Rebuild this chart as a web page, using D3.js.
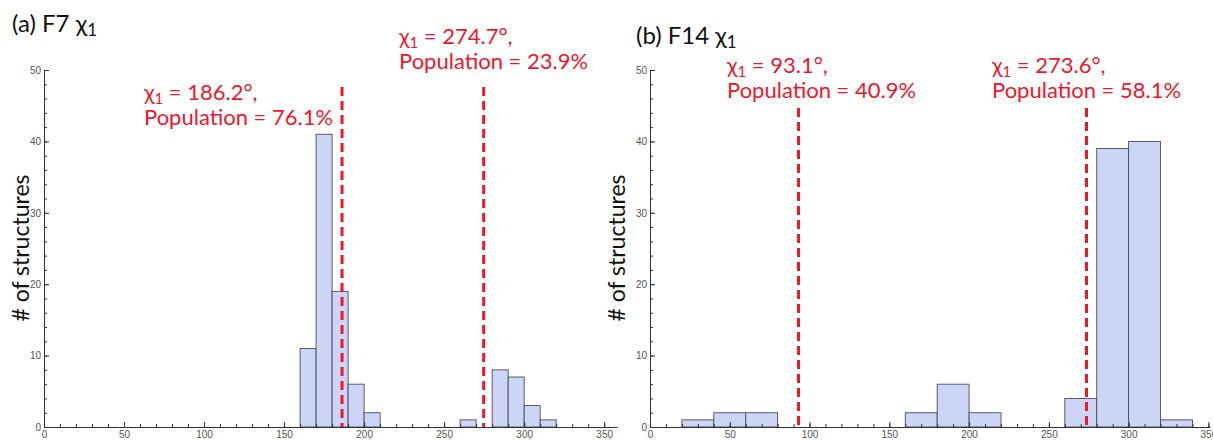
<!DOCTYPE html>
<html>
<head>
<meta charset="utf-8">
<script src="https://cdn.jsdelivr.net/npm/d3@7"></script>
<style>
  body { margin: 0; background: #fff; }
  .tick text { font-family: "Liberation Sans Narrow", "Liberation Sans", sans-serif; font-size: 10px; fill: #555; }
  .lbl { font-family: Lato, "Open Sans", sans-serif; }
</style>
</head>
<body>
<svg id="chart" width="1213" height="442"></svg>
<script>
// F7 histogram (bin start, counts)
const f7Bins = [160, 170, 180, 190, 200, 260, 280, 290, 300, 310];
const f7Counts = [11, 41, 19, 6, 2, 1, 8, 7, 3, 1];
const f7BinWidth = 10;
const f7Peaks = ["186.2", "274.7"];
const f7Pops = ["76.1", "23.9"];

// F14 histogram
const f14Bins = [20, 40, 60, 160, 180, 200, 260, 280, 300, 320];
const f14Counts = [1, 2, 2, 2, 6, 2, 4, 39, 40, 1];
const f14BinWidth = 20;
const f14Peaks = ["93.1", "273.6"];
const f14Pops = ["40.9", "58.1"];

const xTicks = [0, 50, 100, 150, 200, 250, 300, 350];
const yTicks = [0, 10, 20, 30, 40, 50];

const svg = d3.select("#chart");

function drawPanel(p) {
    const x = d3.scaleLinear().domain(p.xDomain).range(p.xRange);
    const y = d3.scaleLinear().domain([0, 50]).range([427, 70]);
    const g = svg.append("g");

    // bars
    g.selectAll(".bar")
        .data(p.bins.map((b, i) => ({ b: b, c: p.counts[i] })))
        .join("rect")
        .attr("class", "bar")
        .attr("x", d => x(d.b))
        .attr("width", d => x(d.b + p.binWidth) - x(d.b))
        .attr("y", d => y(d.c))
        .attr("height", d => y(0) - y(d.c))
        .attr("fill", "#ccd5f6")
        .attr("stroke", "#4b4b5e")
        .attr("stroke-width", 0.9);

    // minor ticks
    g.append("g")
        .attr("transform", `translate(0,${y(0)})`)
        .call(d3.axisBottom(x).tickValues(d3.range(0, 360, 10)).tickSize(-3).tickFormat(""))
        .call(a => a.select(".domain").remove())
        .selectAll("line").attr("stroke", "#333");
    g.append("g")
        .attr("transform", `translate(${x(0)},0)`)
        .call(d3.axisLeft(y).tickValues(d3.range(0, 51, 2)).tickSize(-3).tickFormat(""))
        .call(a => a.select(".domain").remove())
        .selectAll("line").attr("stroke", "#333");

    // major axes
    const xa = g.append("g")
        .attr("transform", `translate(0,${y(0)})`)
        .call(d3.axisBottom(x).tickValues(xTicks).tickSize(-5).tickSizeOuter(0).tickPadding(4));
    const ya = g.append("g")
        .attr("transform", `translate(${x(0)},0)`)
        .call(d3.axisLeft(y).tickValues(yTicks).tickSize(-5).tickSizeOuter(0).tickPadding(3));
    [xa, ya].forEach(a => {
        a.select(".domain").attr("stroke", "#333");
        a.selectAll(".tick line").attr("stroke", "#333");
    });

    // peak lines
    p.peaks.forEach((pk, i) => {
        g.append("line")
            .attr("x1", x(+pk)).attr("x2", x(+pk))
            .attr("y1", p.lineTop).attr("y2", y(0))
            .attr("stroke", "#f0162a")
            .attr("stroke-width", 3)
            .attr("stroke-dasharray", "9,5");

        const t = g.append("text").attr("class", "lbl")
            .attr("x", p.labelX[i]).attr("y", p.labelY[i])
            .attr("fill", "#f0162a").attr("font-size", 22);
        t.append("tspan").text("χ");
        t.append("tspan").attr("font-size", 15).attr("dy", 4).text("1");
        t.append("tspan").attr("dy", -4).text(` = ${pk}°,`);
        g.append("text").attr("class", "lbl")
            .attr("x", p.labelX[i]).attr("y", p.labelY[i] + 25)
            .attr("fill", "#f0162a").attr("font-size", 22)
            .text(`Population = ${p.pops[i]}%`);
    });

    // title
    const tt = g.append("text").attr("class", "lbl")
        .attr("x", p.titleX).attr("y", p.titleY)
        .attr("font-size", 24).attr("fill", "#111");
    tt.append("tspan").text(p.title + " χ");
    tt.append("tspan").attr("font-size", 17).attr("dy", 4).text("1");

    // y label
    g.append("text").attr("class", "lbl")
        .attr("transform", `translate(${p.yLabelX},248) rotate(-90)`)
        .attr("text-anchor", "middle")
        .attr("font-size", 23).attr("fill", "#111")
        .text("# of structures");
}

drawPanel({
    bins: f7Bins, counts: f7Counts, binWidth: f7BinWidth,
    peaks: f7Peaks, pops: f7Pops,
    xDomain: [0, 358], xRange: [44, 617],
    lineTop: 87,
    labelX: [144, 399], labelY: [100, 44],
    title: "(a) F7", titleX: 12, titleY: 32,
    yLabelX: 29
});

drawPanel({
    bins: f14Bins, counts: f14Counts, binWidth: f14BinWidth,
    peaks: f14Peaks, pops: f14Pops,
    xDomain: [0, 351], xRange: [650, 1210],
    lineTop: 108,
    labelX: [727, 992], labelY: [73, 73],
    title: "(b) F14", titleX: 636, titleY: 44,
    yLabelX: 625
});
</script>
</body>
</html>
